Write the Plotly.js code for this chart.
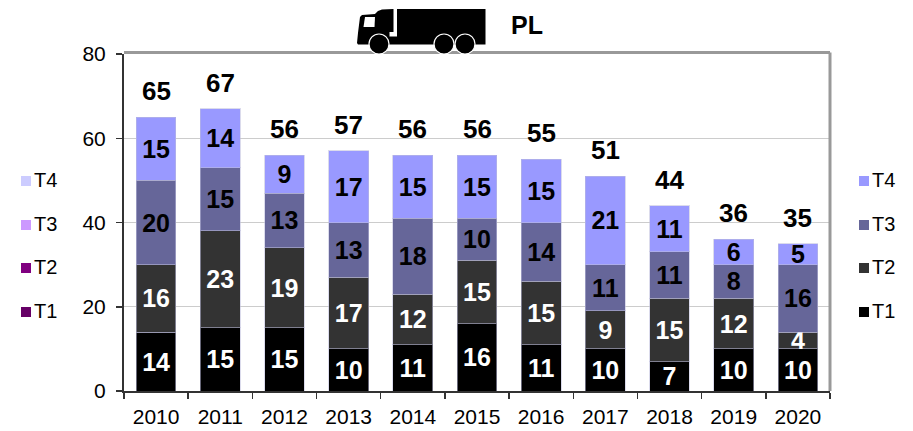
<!DOCTYPE html>
<html><head><meta charset="utf-8">
<script src="https://cdn.plot.ly/plotly-3.0.1.min.js"></script>
<style>html,body{margin:0;padding:0;background:#fff}</style></head>
<body><div id="chart" style="width:913px;height:431px"></div>
<script>
const years = ['2010','2011','2012','2013','2014','2015','2016','2017','2018','2019','2020'];
const t1 = [14,15,15,10,11,16,11,10,7,10,10];
const t2 = [16,23,19,17,12,15,15,9,15,12,4];
const t3 = [20,15,13,13,18,10,14,11,11,8,16];
const t4 = [15,14,9,17,15,15,15,21,11,6,5];
const totals = [65,67,56,57,56,56,55,51,44,36,35];
const seriesNames = ['T1','T2','T3','T4'];
const rightColors = ['#000000','#333333','#666699','#9999ff'];
const leftColors = ['#660066','#800080','#cc99ff','#ccccff'];
const labelColors = ['#ffffff','#ffffff','#000000','#000000'];
const legendRows = [312,268,225,181];

const W=913,H=431,L=124,R=830,T=54,B=391;
const px=x=>(x-L)/(R-L), py=y=>(B-y)/(B-T);
const font='"Liberation Sans", Arial, sans-serif';

const traces=[t1,t2,t3,t4].map((v,i)=>({
  type:'bar',x:years,y:v,name:seriesNames[i],showlegend:false,
  marker:{color:rightColors[i],line:{color:'rgba(190,190,220,0.55)',width:1}},
  text:v.map(String),textposition:'inside',insidetextanchor:'middle',textangle:0,
  constraintext:'none',cliponaxis:false,
  textfont:{family:font,size:25,color:labelColors[i],weight:'bold'},
  hoverinfo:'y+name'
}));

const poly=pts=>'M'+pts.map(p=>px(p[0]).toFixed(5)+','+py(p[1]).toFixed(5)).join('L')+'Z';
const paperShape=o=>Object.assign({xref:'paper',yref:'paper',layer:'above'},o);
const shapes=[];
// plot frame
shapes.push(paperShape({type:'line',x0:0,x1:1,y0:py(52.5),y1:py(52.5),line:{color:'#999',width:3}}));
shapes.push(paperShape({type:'line',x0:1,x1:1,y0:py(52.5),y1:0,line:{color:'#999',width:3}}));
// truck
shapes.push(paperShape({type:'path',fillcolor:'#000',line:{width:0},
  path:poly([[397,9],[485.5,9],[485.5,44.5],[397,44.5]])}));
shapes.push(paperShape({type:'path',fillcolor:'#000',line:{width:0},
  path:poly([[358,44.5],[357,43],[358,33],[360,17],[362,15],[375,14],[378,11],[382,9.5],[393.5,9],[393.5,32],[389.5,32],[389.5,36.5],[397,36.5],[397,44.5]])}));
shapes.push(paperShape({type:'path',fillcolor:'#fff',line:{width:0},
  path:poly([[365,17],[375,17],[374.5,27],[363.5,27]])}));
[379,444,465].forEach(c=>{
  shapes.push(paperShape({type:'circle',x0:px(c-10),x1:px(c+10),y0:py(54),y1:py(34),fillcolor:'#000',line:{color:'#fff',width:1.2}}));
});
// legend squares
legendRows.forEach((y,i)=>{
  shapes.push(paperShape({type:'rect',x0:px(21),x1:px(31),y0:py(y+5),y1:py(y-5),fillcolor:leftColors[i],line:{width:0}}));
  shapes.push(paperShape({type:'rect',x0:px(859),x1:px(869),y0:py(y+5),y1:py(y-5),fillcolor:rightColors[i],line:{width:0}}));
});
const annotations=[];
legendRows.forEach((y,i)=>{
  [33,871].forEach(x=>annotations.push({xref:'paper',yref:'paper',x:px(x),y:py(y-1),xanchor:'left',yanchor:'middle',
    text:seriesNames[i],showarrow:false,borderpad:0,font:{family:font,size:20,color:'#000'}}));
});
annotations.push({xref:'paper',yref:'paper',x:px(527),y:py(25),xanchor:'center',yanchor:'middle',text:'<b>PL</b>',
  showarrow:false,font:{family:font,size:25,color:'#000'}});
years.forEach((yr,i)=>annotations.push({xref:'x',yref:'y',x:i,y:totals[i],yanchor:'middle',xanchor:'center',yshift:26,
  text:'<b>'+totals[i]+'</b>',showarrow:false,font:{family:font,size:26,color:'#000'}}));

const layout={width:W,height:H,margin:{l:L,r:W-R,t:T,b:H-B,pad:0},
  paper_bgcolor:'#fff',plot_bgcolor:'#fff',barmode:'stack',bargap:0.38,showlegend:false,
  font:{family:font,color:'#000'},
  xaxis:{type:'category',tickson:'boundaries',ticks:'outside',ticklen:6,tickcolor:'#333',tickwidth:1.5,
    showline:true,linecolor:'#333',linewidth:2,showgrid:false,tickfont:{family:font,size:21,color:'#000'},
    ticklabelstandoff:6,range:[-0.5,10.5],automargin:false},
  yaxis:{range:[0,80],tickvals:[0,20,40,60,80],ticks:'outside',ticklen:6,tickcolor:'#333',tickwidth:1.5,
    showline:true,linecolor:'#333',linewidth:2,showgrid:true,gridcolor:'#cccccc',gridwidth:1,zeroline:false,
    tickfont:{family:font,size:21,color:'#000'},ticklabelstandoff:6,automargin:false},
  shapes,annotations};
Plotly.newPlot('chart',traces,layout,{displayModeBar:false,staticPlot:true});
</script></body></html>
